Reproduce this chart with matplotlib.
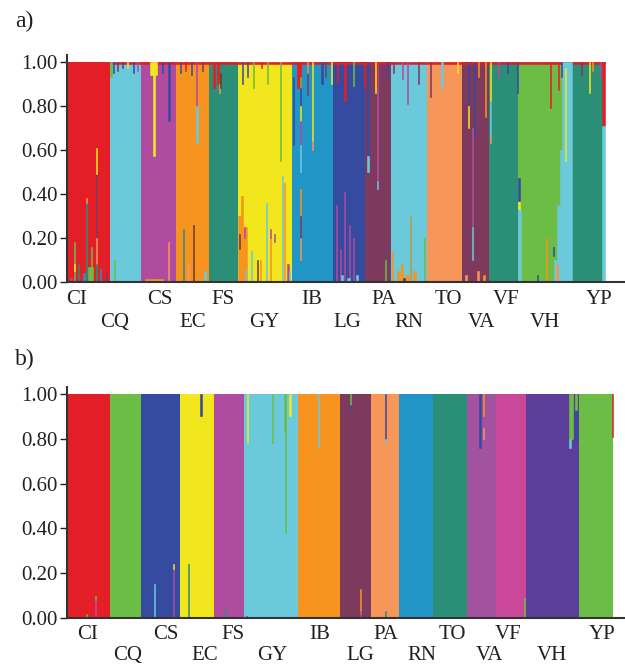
import matplotlib
matplotlib.use("Agg")
import matplotlib.pyplot as plt
import numpy as np

plt.rcParams['font.family'] = ['Liberation Serif', 'DejaVu Serif']

# cluster colours
col = {
    'red': '#e41e26', 'lblue': '#6bc9dc', 'mag': '#b04c9f', 'orange': '#f6941f',
    'teal': '#2b8f78', 'yellow': '#f2e71c', 'blue': '#2295c7', 'dblue': '#354b9f',
    'maroon': '#7d3a5d', 'salmon': '#f69659', 'green': '#6cbd45', 'indigo': '#5b3f9a',
    'purple': '#a3529f', 'pink': '#c9489a', 'brown': '#6b3a2a', 'olive': '#b5a03a',
}

pops = ['CI', 'CQ', 'CS', 'EC', 'FS', 'GY', 'IB', 'LG', 'PA', 'RN', 'TO', 'VA', 'VF', 'VH', 'YP']

# ---- panel a) ----
sizes_a = [43, 31, 35, 33, 29, 54, 41, 32, 26, 36, 35, 27, 29, 54, 33]
main_a = ['red', 'lblue', 'mag', 'orange', 'teal', 'yellow', 'blue', 'dblue',
          'maroon', 'lblue', 'salmon', 'maroon', 'teal', 'green', 'teal']
# label positions (individual index)
lab_a = [10, 48, 93, 126, 156, 197, 245, 280, 317, 342, 381, 415, 439, 478, 532]
# admixture segments: (individual, cluster, q low, q high, n individuals)
seg_a = [
    (43, 'red', 0.992, 1.0, 495),
    # CI
    (7, 'green', 0, 0.18, 1), (7, 'yellow', 0.05, 0.08, 1), (11, 'teal', 0, 0.08, 1),
    (19, 'teal', 0, 0.36, 1), (19, 'salmon', 0.36, 0.38, 1), (24, 'green', 0, 0.16, 1),
    (21, 'green', 0, 0.07, 5), (29, 'maroon', 0.2, 0.49, 1), (29, 'yellow', 0.49, 0.61, 1),
    (29, 'salmon', 0.08, 0.2, 1), (29, 'teal', 0, 0.08, 1), (33, 'blue', 0, 0.06, 1),
    (39, 'maroon', 0, 0.04, 1), (16, 'blue', 0, 0.04, 2), (3, 'mag', 0, 0.02, 2),
    # CQ
    (47, 'green', 0, 0.1, 1), (43, 'green', 0.93, 1, 2), (46, 'dblue', 0.95, 1, 1),
    (50, 'maroon', 0.96, 1, 1), (55, 'dblue', 0.97, 1, 1), (60, 'yellow', 0.97, 1, 1),
    (66, 'dblue', 0.95, 1, 1), (70, 'mag', 0.96, 1, 1),
    # CS
    (83, 'yellow', 0.94, 1, 7), (86, 'yellow', 0.57, 1, 2), (101, 'dblue', 0.73, 1, 2),
    (101, 'salmon', 0, 0.18, 1), (78, 'orange', 0, 0.012, 18), (95, 'dblue', 0.95, 1, 1),
    # EC
    (116, 'teal', 0, 0.24, 1), (126, 'brown', 0, 0.26, 1), (120, 'salmon', 0, 0.08, 2),
    (129, 'mag', 0.8, 1, 1), (129, 'lblue', 0.63, 0.8, 2), (137, 'lblue', 0, 0.05, 2),
    (113, 'dblue', 0.95, 1, 1), (118, 'red', 0.96, 1, 1), (124, 'dblue', 0.94, 1, 1),
    (135, 'maroon', 0.96, 1, 1),
    # FS
    (146, 'red', 0.88, 1, 2), (150, 'red', 0.9, 1, 2), (152, 'salmon', 0.86, 0.9, 1),
    (153, 'brown', 0.88, 0.95, 1),
    # GY
    (175, 'dblue', 0.9, 1, 1), (180, 'dblue', 0.93, 1, 1), (186, 'green', 0.88, 1, 1),
    (200, 'green', 0.9, 1, 1), (194, 'red', 0.97, 1, 1),
    (171, 'orange', 0, 0.3, 3), (174, 'orange', 0, 0.39, 2), (176, 'orange', 0, 0.25, 4),
    (172, 'brown', 0.15, 0.22, 1), (177, 'mag', 0.2, 0.25, 1), (178, 'lblue', 0, 0.06, 1),
    (184, 'lblue', 0, 0.14, 1), (190, 'brown', 0, 0.1, 1), (199, 'lblue', 0, 0.36, 1),
    (193, 'orange', 0, 0.1, 1), (203, 'orange', 0, 0.2, 1), (203, 'mag', 0.2, 0.24, 1),
    (213, 'green', 0.55, 1, 1), (215, 'lblue', 0, 0.48, 1), (217, 'orange', 0, 0.45, 1),
    (220, 'mag', 0, 0.08, 2), (222, 'lblue', 0, 0.05, 1), (207, 'mag', 0.18, 0.22, 1),
    # IB
    (226, 'dblue', 0.62, 0.93, 1), (230, 'red', 0.88, 1, 4),
    (233, 'red', 0.93, 1, 1), (233, 'green', 0.88, 0.93, 1), (233, 'dblue', 0.8, 0.88, 1),
    (233, 'yellow', 0.73, 0.8, 1), (233, 'mag', 0.62, 0.73, 1), (233, 'lblue', 0.5, 0.62, 1),
    (233, 'orange', 0.3, 0.42, 1), (233, 'maroon', 0.2, 0.3, 1), (233, 'salmon', 0.1, 0.2, 1),
    (245, 'yellow', 0.64, 1, 1), (245, 'salmon', 0.6, 0.64, 1), (240, 'maroon', 0.85, 0.95, 1),
    (240, 'orange', 0.95, 1, 1), (254, 'dblue', 0.9, 1, 2), (258, 'maroon', 0.93, 1, 1),
    (264, 'yellow', 0.9, 1, 1),
    # LG
    (270, 'red', 0.91, 1, 1), (277, 'red', 0.82, 1, 2), (286, 'green', 0.89, 1, 1),
    (297, 'red', 0.88, 1, 1), (269, 'mag', 0, 0.35, 1), (277, 'mag', 0, 0.41, 1),
    (282, 'mag', 0, 0.26, 1), (286, 'mag', 0, 0.2, 1), (273, 'mag', 0, 0.15, 1),
    (274, 'lblue', 0, 0.03, 2), (280, 'lblue', 0, 0.02, 3), (289, 'lblue', 0, 0.03, 2),
    # PA
    (300, 'dblue', 0.57, 1, 2), (300, 'lblue', 0.5, 0.57, 2), (310, 'mag', 0.46, 1, 1),
    (310, 'lblue', 0.42, 0.46, 1), (309, 'red', 0.88, 1, 1), (308, 'yellow', 0.86, 1, 1),
    (318, 'green', 0, 0.1, 1), (320, 'dblue', 0.93, 1, 1),
    # RN
    (335, 'mag', 0.92, 1, 1), (340, 'mag', 0.81, 1, 1), (351, 'maroon', 0.9, 1, 1),
    (326, 'maroon', 0.95, 1, 1), (325, 'orange', 0, 0.14, 1), (343, 'olive', 0, 0.3, 1),
    (330, 'orange', 0, 0.05, 3), (334, 'orange', 0, 0.08, 2), (338, 'orange', 0, 0.03, 4),
    (346, 'orange', 0, 0.05, 3), (336, 'brown', 0, 0.02, 2), (357, 'green', 0, 0.2, 1),
    # TO
    (374, 'lblue', 0.88, 1, 2), (363, 'maroon', 0.84, 1, 1), (390, 'yellow', 0.95, 1, 1),
    # VA
    (401, 'dblue', 0.8, 1, 1), (401, 'yellow', 0.7, 0.8, 1), (405, 'mag', 0.25, 0.7, 1),
    (405, 'lblue', 0.1, 0.25, 1), (407, 'dblue', 0.66, 1, 1), (411, 'orange', 0.93, 1, 1),
    (418, 'orange', 0.75, 1, 1), (398, 'salmon', 0, 0.03, 2), (410, 'salmon', 0, 0.05, 2),
    (416, 'orange', 0, 0.03, 2),
    # VF
    (423, 'yellow', 0.82, 1, 1), (423, 'lblue', 0.66, 0.82, 1), (423, 'salmon', 0.63, 0.66, 1),
    (431, 'mag', 0.93, 1, 1), (440, 'dblue', 0.95, 1, 1), (450, 'dblue', 0.86, 1, 1),
    # VH
    (495, 'lblue', 0, 1, 10), (493, 'lblue', 0, 0.6, 2), (490, 'lblue', 0, 0.35, 3),
    (487, 'lblue', 0, 0.1, 3), (451, 'lblue', 0, 0.33, 3), (451, 'yellow', 0.33, 0.37, 2),
    (451, 'dblue', 0.37, 0.47, 2), (483, 'red', 0.79, 1, 1), (491, 'red', 0.87, 1, 1),
    (494, 'dblue', 0.93, 1, 1), (498, 'yellow', 0.55, 0.97, 1), (479, 'orange', 0, 0.2, 1),
    (486, 'dblue', 0.12, 0.16, 1), (489, 'salmon', 0, 0.08, 2), (470, 'dblue', 0, 0.03, 1),
    # YP
    (522, 'yellow', 0.86, 1, 1), (514, 'maroon', 0.94, 1, 1), (533, 'mag', 0.93, 1, 1),
    (525, 'orange', 0.96, 1, 1), (535, 'red', 0.71, 1, 3), (535, 'lblue', 0, 0.71, 3),
]

# ---- panel b) ----
sizes_b = [43, 31, 39, 34, 30, 54, 42, 31, 28, 34, 34, 29, 30, 53, 34]
main_b = ['red', 'green', 'dblue', 'yellow', 'mag', 'lblue', 'orange', 'maroon',
          'salmon', 'blue', 'teal', 'purple', 'pink', 'indigo', 'green']
lab_b = [21, 61, 99, 138, 166, 205, 253, 293, 319, 355, 385, 423, 441, 485, 535]
seg_b = [
    (19, 'green', 0, 0.02, 1), (28, 'pink', 0, 0.08, 1), (28, 'green', 0.08, 0.1, 1),
    (87, 'lblue', 0, 0.15, 1), (106, 'mag', 0, 0.22, 1), (106, 'yellow', 0.22, 0.24, 1),
    (133, 'dblue', 0.9, 1, 2), (121, 'teal', 0, 0.24, 1),
    (158, 'teal', 0, 0.04, 1),
    (180, 'yellow', 0.78, 1, 1), (205, 'green', 0.78, 1, 1), (218, 'green', 0.38, 1, 1),
    (217, 'green', 0.83, 1, 2), (222, 'yellow', 0.9, 1, 2), (179, 'dblue', 0, 0.01, 1),
    (251, 'lblue', 0.76, 1, 1),
    (283, 'green', 0.95, 1, 1), (283, 'dblue', 0.93, 0.95, 1), (293, 'orange', 0.02, 0.13, 1),
    (293, 'mag', 0, 0.03, 1),
    (318, 'dblue', 0.8, 1, 1), (318, 'lblue', 0.78, 0.8, 1), (318, 'teal', 0, 0.03, 1),
    (412, 'dblue', 0.76, 1, 2), (416, 'orange', 0.9, 1, 1), (416, 'salmon', 0.8, 0.85, 1),
    (457, 'green', 0, 0.09, 1),
    (502, 'green', 0.8, 1, 4), (502, 'lblue', 0.76, 0.8, 2), (508, 'dblue', 0.78, 0.93, 2),
    (508, 'green', 0.93, 1, 2),
    (545, 'red', 0.81, 1, 1),
]

ytick_vals = [0.0, 0.2, 0.4, 0.6, 0.8, 1.0]

fig = plt.figure(figsize=(6.25, 6.65), dpi=100)
ax_a = fig.add_axes([0.1072, 0.576, 0.8928, 0.341])
ax_b = fig.add_axes([0.1072, 0.0707, 0.8928, 0.347])


def draw_panel(ax, sizes, main, segs, labx, pad1, pad2):
    starts = np.concatenate([[0], np.cumsum(sizes)[:-1]])
    ax.bar(starts, [1.0] * len(sizes), width=sizes, align='edge',
           color=[col[c] for c in main], linewidth=0)
    for i, c, lo, hi, n in segs:
        ax.bar(i, hi - lo, bottom=lo, width=n, align='edge', color=col[c],
               edgecolor=col[c], linewidth=0.4)
    ax.set_xlim(0, 558)
    ax.set_ylim(0, 1.03)
    labx = np.array(labx, dtype=float)
    ax.set_xticks(labx[::2])
    ax.set_xticklabels(pops[::2])
    ax.set_xticks(labx[1::2], minor=True)
    ax.set_xticklabels(pops[1::2], minor=True)
    ax.tick_params(axis='x', which='major', length=0, pad=pad1, labelsize=15, colors='#231f20')
    ax.tick_params(axis='x', which='minor', length=0, pad=pad2, labelsize=15, colors='#231f20')
    ax.set_yticks(ytick_vals)
    ax.set_yticklabels(['%.2f' % v for v in ytick_vals])
    ax.tick_params(axis='y', length=5, width=1, pad=2, labelsize=15, colors='#231f20')
    for s in ['top', 'right']:
        ax.spines[s].set_visible(False)
    for s in ['left', 'bottom']:
        ax.spines[s].set_color('#333333')
        ax.spines[s].set_linewidth(1.5)


draw_panel(ax_a, sizes_a, main_a, seg_a, lab_a, 6, 22)
draw_panel(ax_b, sizes_b, main_b, seg_b, lab_b, 5, 20.5)

fig.text(0.024, 0.968, 'a)', fontsize=17, va='center', color='#231f20')
fig.text(0.024, 0.459, 'b)', fontsize=17, va='center', color='#231f20')

fig.savefig('out.png', dpi=100)
